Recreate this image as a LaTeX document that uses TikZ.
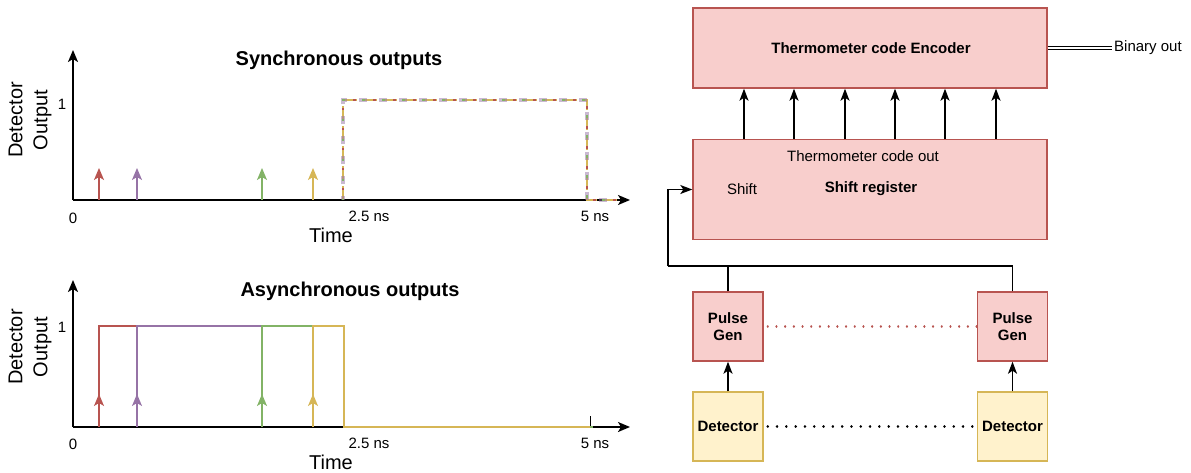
\documentclass[tikz,border=0pt]{standalone}
\usepackage{fontspec}
\setmainfont{Liberation Sans}
\usetikzlibrary{arrows.meta}
\definecolor{pkfill}{HTML}{F8CECC}
\definecolor{pkline}{HTML}{B85450}
\definecolor{ylfill}{HTML}{FFF2CC}
\definecolor{ylline}{HTML}{D6B656}
\definecolor{cred}{HTML}{B85450}
\definecolor{cpur}{HTML}{9673A6}
\definecolor{cgrn}{HTML}{82B366}
\definecolor{cyel}{HTML}{D6B656}
\begin{document}
\begin{tikzpicture}[x=1pt,y=-1pt,
  font=\fontsize{15}{17.5}\selectfont,
  tip/.style={-{Stealth[length=12pt,width=10pt,inset=3pt]}},
  axisline/.style={line width=1.6pt, black, tip},
  parr/.style={line width=1.3pt, tip},
  wave/.style={line width=2.6pt},
  big/.style={font=\fontsize{20}{25}\selectfont},
  bigbold/.style={font=\fontsize{20}{25}\selectfont\bfseries},
  lbl/.style={inner sep=1pt, font=\fontsize{15}{17}\selectfont},
  boldtxt/.style={font=\fontsize{15}{17.5}\selectfont\bfseries},
  pinkbox/.style={draw=pkline, fill=pkfill, line width=1.4pt, inner sep=2pt, align=center},
  yelbox/.style={draw=ylline, fill=ylfill, line width=1.4pt, inner sep=2pt, align=center},
  conn/.style={line width=1.4pt, black},
  carr/.style={line width=1.4pt, black, -{Stealth[length=12pt,width=9pt,inset=3pt]}},
]
\useasboundingbox (0,0) rectangle (1191,472);

%%%%%%%%%%%%%%%% Top plot: synchronous
\draw[axisline] (73,200) -- (630,200);
\draw[axisline] (73,200) -- (73,50);
\node[bigbold] (t1) at (339,60) {Synchronous outputs};
\node[lbl] (one1) at (62,104) {1};
\node[lbl] (zero1) at (73,218) {0};
\node[lbl] (tw1) at (369,216) {2.5 ns};
\node[lbl] (fv1) at (595,216) {5 ns};
\node[big] (time1) at (331,235) {Time};
\node[big, rotate=90, align=center] (yl1) at (30,120) {Detector\\Output};

\draw[parr, cred] (99,200) -- (99,168);
\draw[parr, cpur] (137,200) -- (137,168);
\draw[parr, cgrn] (262,200) -- (262,168);
\draw[parr, cyel] (313,200) -- (313,168);

\def\syncpath{(343,200) -- (343,100) -- (587,100) -- (587,200) -- (617,200)}
\draw[cyel, line width=2.6pt, dash pattern=on 14pt off 6pt] \syncpath;
\draw[cpur, opacity=0.5, line width=4pt, dash pattern=on 8pt off 12pt, dash phase=4pt] \syncpath;
\draw[cgrn, line width=1.6pt, dash pattern=on 2.5pt off 17.5pt, dash phase=1pt] \syncpath;
\draw[cred, line width=1.6pt, dash pattern=on 2.5pt off 17.5pt, dash phase=10pt] \syncpath;

%%%%%%%%%%%%%%%% Bottom plot: asynchronous
\draw[axisline] (73,427) -- (630,427);
\draw[axisline] (73,427) -- (73,280);
\node[bigbold] (t2) at (350,291) {Asynchronous outputs};
\node[lbl] (one2) at (62,327) {1};
\node[lbl] (zero2) at (73,444) {0};
\node[lbl] (tw2) at (369,443) {2.5 ns};
\node[lbl] (fv2) at (595,443) {5 ns};
\node[big] (time2) at (331,462) {Time};
\node[big, rotate=90, align=center] (yl2) at (30,347) {Detector\\Output};

\draw[black, line width=1pt] (590,416) -- (590,427);
\draw[wave, cred] (99,427) -- (99,326) -- (137,326);
\draw[wave, cpur] (137,427) -- (137,326) -- (262,326);
\draw[wave, cgrn] (262,427) -- (262,326) -- (313,326);
\draw[wave, cgrn] (580,427) -- (593,427);
\draw[wave, cyel, line join=miter] (313,427) -- (313,326) -- (344,326) -- (344,427) -- (590,427);

\draw[parr, cred] (99,427) -- (99,394);
\draw[parr, cpur] (137,427) -- (137,394);
\draw[parr, cgrn] (262,427) -- (262,394);
\draw[parr, cyel] (313,427) -- (313,394);

%%%%%%%%%%%%%%%% Right block diagram
\node[pinkbox, minimum width=354pt, minimum height=80pt] (enc) at (870,48) {};
\node[boldtxt] (enctxt) at (871,48) {Thermometer code Encoder};
\node[pinkbox, minimum width=354pt, minimum height=100pt] (sr) at (870,189.5) {};
\node (srout) at (863,156) {Thermometer code out};
\node (srshift) at (742,189) {Shift};
\node[boldtxt] (srname) at (871,189) {Shift register};

\node[anchor=west, inner sep=2pt] (bo) at (1112,48) {Binary out};
\draw[line width=1pt, double, double distance=2pt] (enc.east) -- (bo.west);

\foreach \xx in {744,794,845,895,945,996}
  \draw[carr] (\xx,0 |- sr.north) -- (\xx,0 |- enc.south);

\node[pinkbox, boldtxt, minimum width=70pt, minimum height=69pt] (pg1) at (728,326.5) {Pulse\\Gen};
\node[pinkbox, boldtxt, minimum width=70pt, minimum height=69pt] (pg2) at (1012.5,326.5) {Pulse\\Gen};
\node[yelbox, boldtxt, minimum width=70pt, minimum height=69pt] (det1) at (728,426.5) {Detector};
\node[yelbox, boldtxt, minimum width=70pt, minimum height=69pt] (det2) at (1012.5,426.5) {Detector};

\draw[carr] (det1) -- (pg1);
\draw[carr] (det2) -- (pg2);
\draw[pkline, line width=2.2pt, dash pattern=on 0.1pt off 8.6pt, line cap=round] ([xshift=4pt]pg1.east) -- (pg2.west);
\draw[black, line width=2.6pt, dash pattern=on 0.1pt off 9.2pt, line cap=round] ([xshift=4pt]det1.east) -- (det2.west);

\coordinate (fb) at (668,266);
\draw[conn] (pg2.north) |- (fb);
\draw[conn] (pg1.north) -- (pg1.north |- fb);
\draw[carr] (fb) |- (sr.west);
\end{tikzpicture}
\end{document}
